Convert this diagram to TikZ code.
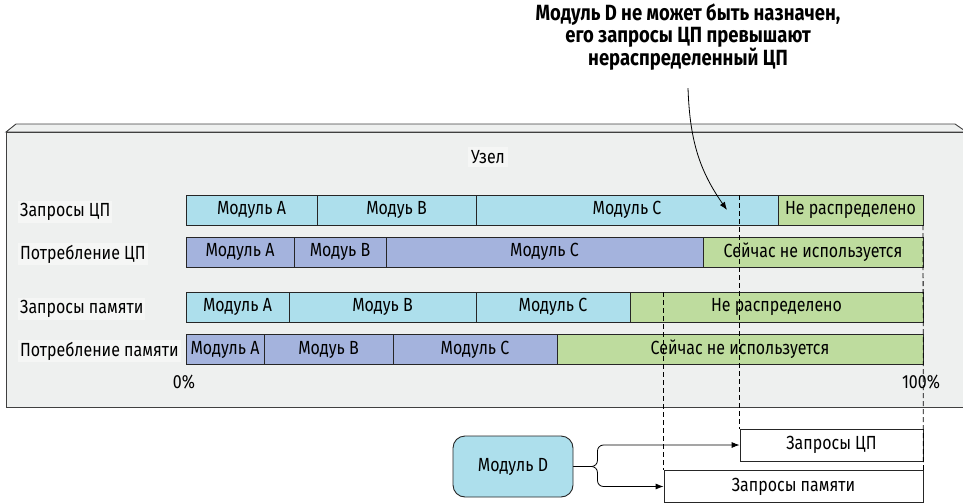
\documentclass[tikz,border=0pt]{standalone}
\usepackage{fontspec}
\setmainfont{Fira Sans}[FakeStretch=0.84]
\usepackage{tikz}
\usetikzlibrary{positioning}
\usetikzlibrary{arrows.meta}

\definecolor{nodegrey}{HTML}{EEF0EF}
\definecolor{labelbg}{HTML}{F5F6F5}
\definecolor{reqblue}{HTML}{ADDFEC}
\definecolor{useblue}{HTML}{A4B3DD}
\definecolor{freegreen}{HTML}{BEDC9E}

\tikzset{
  seg/.style={draw=black!85, line width=.8pt, minimum height=30pt,
    inner sep=0pt, outer sep=0pt, font=\fontsize{19}{21}\selectfont},
  req/.style={seg, fill=reqblue},
  use/.style={seg, fill=useblue},
  free/.style={seg, fill=freegreen},
  rowlabel/.style={anchor=west, fill=labelbg, inner sep=2pt,
    font=\fontsize{19}{21}\selectfont},
  guide/.style={dashed, line width=.8pt, dash pattern=on 5pt off 3pt},
  ptr/.style={-{Latex[length=8pt,width=6pt]}, line width=.8pt},
}

\begin{document}
\begin{tikzpicture}[x=1pt,y=-1pt]
\useasboundingbox (0,0) rectangle (963,503);

% the node itself, a flat box seen slightly from above
\filldraw[fill=nodegrey, draw=black!75, line width=.9pt]
  (6,132) -- (16,124) -- (955,124) -- (968,133) -- (968,132) -- cycle;
\filldraw[fill=nodegrey, draw=black!75, line width=.9pt]
  (968,132) -- (6,132) -- (6,407) -- (968,407);
\node[fill=labelbg, font=\fontsize{19}{21}\selectfont] (title) at (488,157) {Узел};

% row labels
\node[rowlabel] (lreq)  at (18,212) {Запросы ЦП};
\node[rowlabel] (luse)  at (18,254) {Потребление ЦП};
\node[rowlabel] (lmreq) at (18,309) {Запросы памяти};
\node[rowlabel] (lmuse) at (18,351) {Потребление памяти};

% cpu requests
\node[req, minimum width=131pt, anchor=west] (ra) at (186,210) {Модуль A};
\node[req, minimum width=159pt, right=0pt of ra] (rb) {Модуь B};
\node[req, minimum width=302pt, right=0pt of rb] (rc) {Модуль C};
\node[free, minimum width=145pt, right=0pt of rc] (rf) {Не распределено};

% cpu usage
\node[use, minimum width=108pt, anchor=west] (ua) at (186,252) {Модуль A};
\node[use, minimum width=92pt, right=0pt of ua] (ub) {Модуь B};
\node[use, minimum width=317pt, right=0pt of ub] (uc) {Модуль C};
\node[free, minimum width=220pt, right=0pt of uc] (uf) {Сейчас не используется};

% memory requests
\node[req, minimum width=103pt, anchor=west] (ma) at (186,307) {Модуль A};
\node[req, minimum width=187pt, right=0pt of ma] (mb) {Модуь B};
\node[req, minimum width=154pt, right=0pt of mb] (mc) {Модуль C};
\node[free, minimum width=293pt, right=0pt of mc] (mf) {Не распределено};

% memory usage
\node[use, minimum width=78pt, anchor=west] (na) at (186,349.5) {Модуль A};
\node[use, minimum width=129pt, right=0pt of na] (nb) {Модуь B};
\node[use, minimum width=164pt, right=0pt of nb] (nc) {Модуль C};
\node[free, minimum width=366pt, right=0pt of nc] (nf) {Сейчас не используется};

\node[font=\fontsize{19}{21}\selectfont] (zero) at (184,382) {0\%};
\node[font=\fontsize{19}{21}\selectfont] (full) at (921,382) {100\%};

% the pod that does not fit
\node[draw=black!85, fill=reqblue, rounded corners=12pt, line width=.9pt,
  minimum width=120pt, minimum height=61pt,
  font=\fontsize{19}{21}\selectfont] (modd) at (513,466.5) {Модуль D};
\node[draw=black!85, fill=white, line width=.8pt, minimum width=183pt,
  minimum height=32pt, inner sep=0pt,
  font=\fontsize{19}{21}\selectfont] (dreq) at (831.5,445) {Запросы ЦП};
\node[draw=black!85, fill=white, line width=.8pt, minimum width=259pt,
  minimum height=32pt, inner sep=0pt,
  font=\fontsize{19}{21}\selectfont] (dmem) at (793.5,486.5) {Запросы памяти};

\draw[ptr, rounded corners=6pt] (modd.east) -- ++(24,0) |- (dreq.west);
\draw[ptr, rounded corners=6pt] (modd.east) -- ++(24,0) |- (dmem.west);

% where the requests of D would end
\draw[guide] (rc.north west -| dreq.north west) -- (dreq.north west);
\draw[guide] (mf.north west -| dmem.north west) -- (dmem.north west);
\draw[guide] (rf.south east) -- (dmem.north east);

% note on top
\node[font=\bfseries\fontsize{22}{22}\selectfont, align=center] (note) at (688,37)
  {Модуль D не может быть назначен,\\его запросы ЦП превышают\\нераспределенный ЦП};
\coordinate (hit) at (727,210);
\draw[ptr] (note.south) ++(0,14) to[out=-88, in=125] (hit);
\end{tikzpicture}
\end{document}
